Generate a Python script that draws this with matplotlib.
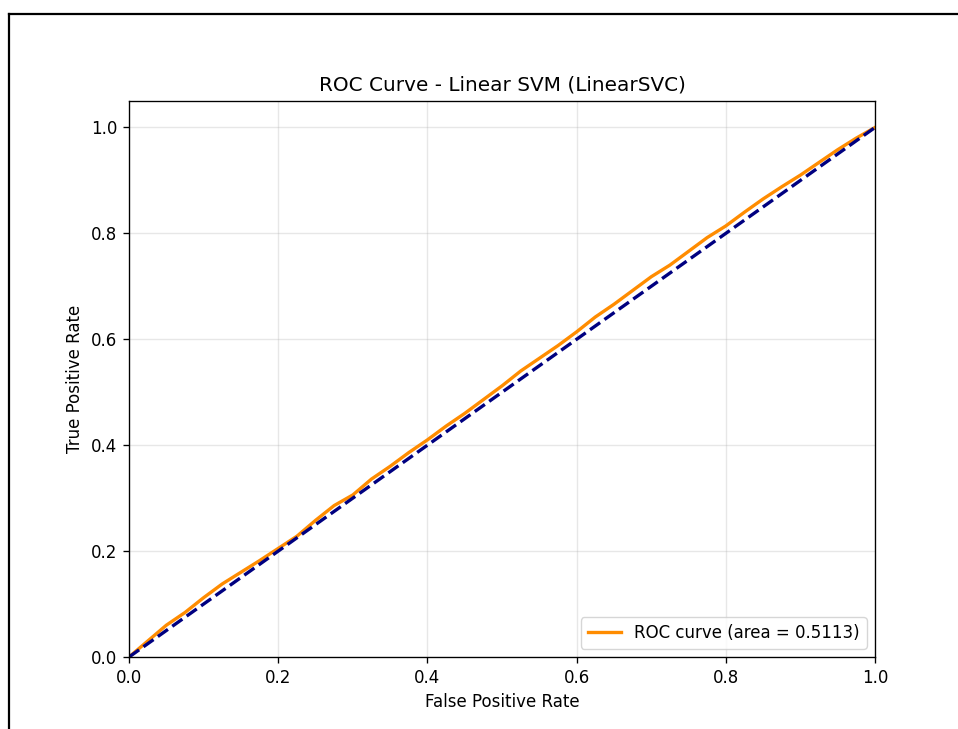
import matplotlib
matplotlib.use("Agg")
import matplotlib.pyplot as plt
from matplotlib.lines import Line2D

# ROC points
fpr = [0.0, 0.025, 0.05, 0.075, 0.1, 0.125, 0.15, 0.175, 0.2, 0.225, 0.25, 0.275,
       0.3, 0.325, 0.35, 0.375, 0.4, 0.425, 0.45, 0.475, 0.5, 0.525, 0.55, 0.575,
       0.6, 0.625, 0.65, 0.675, 0.7, 0.725, 0.75, 0.775, 0.8, 0.825, 0.85, 0.875,
       0.9, 0.925, 0.95, 0.975, 1.0]
tpr = [0.0, 0.030, 0.060, 0.084, 0.112, 0.138, 0.160, 0.182, 0.205, 0.228, 0.258, 0.286,
       0.306, 0.336, 0.360, 0.386, 0.410, 0.436, 0.460, 0.486, 0.512, 0.540, 0.564, 0.588,
       0.614, 0.642, 0.666, 0.692, 0.718, 0.740, 0.766, 0.792, 0.814, 0.840, 0.865, 0.888,
       0.910, 0.934, 0.958, 0.980, 1.0]
roc_auc = 0.5113

# the reference looks like a default figure rendered ~1.2x larger
s = 1.2
plt.rcParams.update({
    'font.size': 10 * s,
    'axes.linewidth': 0.8 * s,
    'grid.linewidth': 0.8 * s,
    'xtick.major.size': 3.5 * s, 'ytick.major.size': 3.5 * s,
    'xtick.major.width': 0.8 * s, 'ytick.major.width': 0.8 * s,
    'xtick.major.pad': 3.5 * s, 'ytick.major.pad': 3.5 * s,
    'axes.titlepad': 6 * s, 'axes.labelpad': 4 * s,
    'legend.frameon': True,
})

fig = plt.figure(figsize=(9.58, 7.29), dpi=100)
ax = fig.add_axes([0.1347, 0.0988, 0.9134 - 0.1347, 0.8615 - 0.0988])

ax.plot(fpr, tpr, color='darkorange', lw=2 * s, label='ROC curve (area = %0.4f)' % roc_auc)
ax.plot([0, 1], [0, 1], color='navy', lw=2 * s, linestyle='--')
ax.set_xlim([0.0, 1.0])
ax.set_ylim([0.0, 1.05])
ax.set_xlabel('False Positive Rate')
ax.set_ylabel('True Positive Rate')
ax.set_title('ROC Curve - Linear SVM (LinearSVC)')
ax.legend(loc="lower right")
ax.grid(alpha=0.3)

# screenshot frame (left and top edges)
W, H = 958, 729
fig.add_artist(Line2D([9 / W, 9 / W], [0, 1 - 14 / H], color='black', lw=1.6,
                      transform=fig.transFigure))
fig.add_artist(Line2D([9 / W, 1], [1 - 14 / H, 1 - 14 / H], color='black', lw=1.6,
                      transform=fig.transFigure))

plt.savefig('out.png', dpi=100)
